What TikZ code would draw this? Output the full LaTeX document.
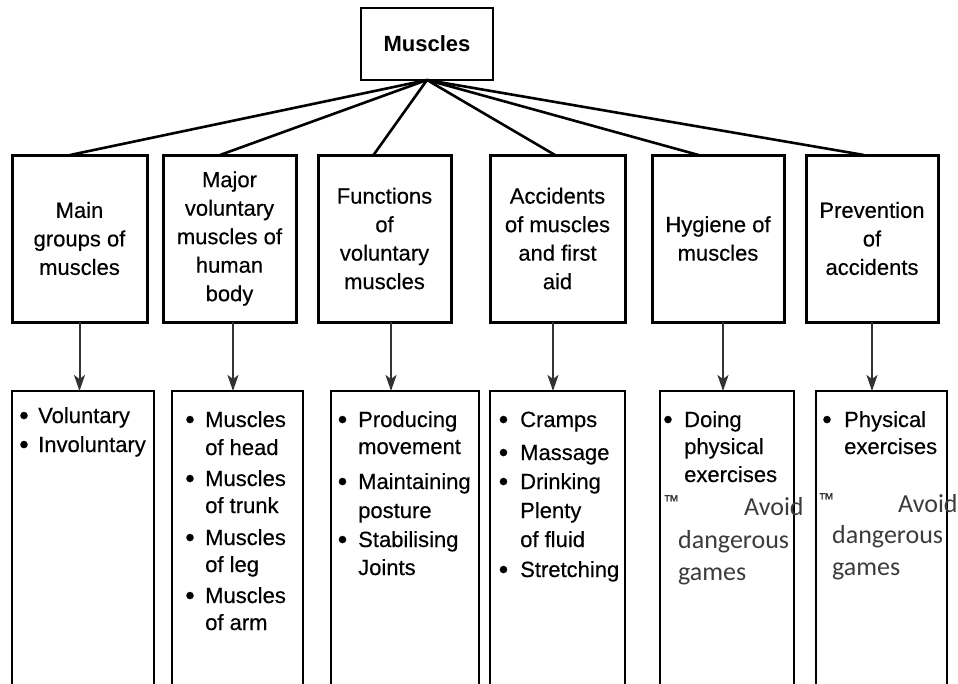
\documentclass[tikz,border=0pt]{standalone}
\usepackage{fontspec}
\setmainfont{Liberation Sans}[UprightFeatures={FakeBold=0.35}]
\newfontfamily\calfont{Carlito}
\usetikzlibrary{arrows.meta}
\definecolor{darkg}{HTML}{333333}
\definecolor{calg}{HTML}{3C3C3C}
\begin{document}
\begin{tikzpicture}[x=1pt,y=-1pt,
  topbox/.style={draw, line width=2.5pt, outer sep=0pt, minimum width=132pt, minimum height=72pt, inner sep=0pt, font=\bfseries\fontsize{22}{26}\selectfont},
  midbox/.style={draw, line width=3pt, outer sep=0pt, minimum height=167pt, inner sep=0pt, align=center, font=\fontsize{22}{28.5}\selectfont},
  lowbox/.style={draw, line width=2.8pt, outer sep=0pt, minimum height=340pt, inner sep=0pt, anchor=north},
  conn/.style={line width=2.6pt},
  arr/.style={darkg, line width=2pt, -{Stealth[length=16pt,width=11pt,inset=4pt]}},
  txt/.style={inner sep=0pt, anchor=base west, font=\fontsize{22}{26}\selectfont},
  bul/.style={inner sep=0pt, anchor=base, yshift=-1.5pt, font=\fontsize{27}{30}\selectfont},
  cal/.style={inner sep=0pt, anchor=base west, text=calg, font=\calfont\fontsize{26}{30}\selectfont},
  tmark/.style={inner sep=0pt, anchor=north west, text=darkg, font=\fontsize{16}{18}\selectfont}]
\useasboundingbox (0,0) rectangle (958,683);
\clip (0,0) rectangle (958,683);
\fill[white] (0,0) rectangle (958,683);

% top
\node[topbox] (top) at (427,44) {Muscles};

% middle row
\node[midbox, minimum width=135pt] (b1) at (79.5,238.5) {Main\\groups of\\muscles};
\node[midbox, minimum width=133pt] (b2) at (229.5,238.5) {Major\\voluntary\\muscles of\\human\\body};
\node[midbox, minimum width=133pt] (b3) at (384.5,238.5) {Functions\\of\\voluntary\\muscles};
\node[midbox, minimum width=135pt] (b4) at (557.5,238.5) {Accidents\\of muscles\\and first\\aid};
\node[midbox, minimum width=132pt] (b5) at (718,238.5) {Hygiene of\\muscles};
\node[midbox, minimum width=132pt] (b6) at (872,238.5) {Prevention\\of\\accidents};

% connectors from top
\draw[conn] (top.south) -- ([xshift=-9.5pt]b1.north);
\draw[conn] (top.south) -- ([xshift=-9.5pt]b2.north);
\draw[conn] (top.south) -- ([xshift=-11pt]b3.north);
\draw[conn] (top.south) -- ([xshift=-2.5pt]b4.north);
\draw[conn] (top.south) -- ([xshift=-19.5pt]b5.north);
\draw[conn] (top.south) -- ([xshift=-8pt]b6.north);

% lower boxes (open at the bottom, cut by the page)
\node[lowbox, minimum width=142pt] (l1) at (83,391) {};
\node[lowbox, minimum width=131pt] (l2) at (237.5,391) {};
\node[lowbox, minimum width=148pt] (l3) at (405,391) {};
\node[lowbox, minimum width=135pt] (l4) at (557.5,391) {};
\node[lowbox, minimum width=134pt] (l5) at (727,391) {};
\node[lowbox, minimum width=131pt] (l6) at (881.5,391) {};

% arrows
\draw[arr] (b1.south) -- (b1.south |- l1.north);
\draw[arr] ([xshift=3.5pt]b2.south) -- ([xshift=3.5pt]b2.south |- l2.north);
\draw[arr] ([xshift=6.5pt]b3.south) -- ([xshift=6.5pt]b3.south |- l3.north);
\draw[arr] ([xshift=-4.5pt]b4.south) -- ([xshift=-4.5pt]b4.south |- l4.north);
\draw[arr] ([xshift=5pt]b5.south) -- ([xshift=5pt]b5.south |- l5.north);
\draw[arr] (b6.south) -- (b6.south |- l6.north);

% box 1 text
\node[bul] (p1a) at (24,423) {•};
\node[txt] (t1a) at (38,423) {Voluntary};
\node[bul] (p1b) at (24,452) {•};
\node[txt] (t1b) at (38,452) {Involuntary};

% box 2 text
\node[bul] (p2a) at (190,427) {•};
\node[txt] (t2a) at (205,427) {Muscles};
\node[txt] (t2b) at (205,455) {of head};
\node[bul] (p2c) at (190,486) {•};
\node[txt] (t2c) at (205,486) {Muscles};
\node[txt] (t2d) at (205,513) {of trunk};
\node[bul] (p2e) at (190,545) {•};
\node[txt] (t2e) at (205,545) {Muscles};
\node[txt] (t2f) at (205,572) {of leg};
\node[bul] (p2g) at (190,603) {•};
\node[txt] (t2g) at (205,603) {Muscles};
\node[txt] (t2h) at (205,630) {of arm};

% box 3 text
\node[bul] (p3a) at (342.5,427) {•};
\node[txt] (t3a) at (358,427) {Producing};
\node[txt] (t3b) at (358,454) {movement};
\node[bul] (p3c) at (342.5,489) {•};
\node[txt] (t3c) at (358,489) {Maintaining};
\node[txt] (t3d) at (358,518) {posture};
\node[bul] (p3e) at (342.5,547) {•};
\node[txt] (t3e) at (358,547) {Stabilising};
\node[txt] (t3f) at (358,575) {Joints};

% box 4 text
\node[bul] (p4a) at (503.5,427) {•};
\node[txt] (t4a) at (520,427) {Cramps};
\node[bul] (p4b) at (503.5,460) {•};
\node[txt] (t4b) at (520,460) {Massage};
\node[bul] (p4c) at (503.5,489) {•};
\node[txt] (t4c) at (520,489) {Drinking};
\node[txt] (t4d) at (520,518) {Plenty};
\node[txt] (t4e) at (520,547) {of fluid};
\node[bul] (p4f) at (503.5,577) {•};
\node[txt] (t4f) at (520,577) {Stretching};

% box 5 text
\node[bul] (p5a) at (668,427) {•};
\node[txt] (t5a) at (684,427) {Doing};
\node[txt] (t5b) at (684,454) {physical};
\node[txt] (t5c) at (684,482) {exercises};
\node[tmark] (m5) at (663,495) {™};
\node[cal] (a5) at (744,515) {Avoid};
\node[cal] (d5) at (678,548) {dangerous};
\node[cal] (g5) at (678,580) {games};

% box 6 text
\node[bul] (p6a) at (827,427) {•};
\node[txt] (t6a) at (844,427) {Physical};
\node[txt] (t6b) at (844,454) {exercises};
\node[tmark] (m6) at (818,493) {™};
\node[cal] (a6) at (898,512) {Avoid};
\node[cal] (d6) at (832,543) {dangerous};
\node[cal] (g6) at (832,575) {games};
\end{tikzpicture}
\end{document}
